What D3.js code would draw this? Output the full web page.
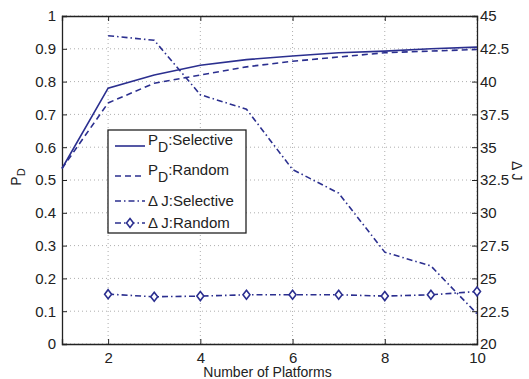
<!DOCTYPE html>
<html>
<head>
<meta charset="utf-8">
<script src="https://cdn.jsdelivr.net/npm/d3@7"></script>
<style>
body { margin: 0; background: #fff; }
text { font-family: "Liberation Sans", Arial, sans-serif; fill: #222; }
</style>
</head>
<body>
<svg id="chart"></svg>
<script>
var width = 529, height = 379;
var margin = {left: 62, right: 52, top: 16, bottom: 35};

// data
var platforms = [1, 2, 3, 4, 5, 6, 7, 8, 9, 10];
var pdSelective = [0.535, 0.78, 0.82, 0.85, 0.867, 0.878, 0.888, 0.893, 0.9, 0.905];
var pdRandom = [0.535, 0.735, 0.795, 0.82, 0.845, 0.862, 0.875, 0.888, 0.893, 0.898];
var djPlatforms = [2, 3, 4, 5, 6, 7, 8, 9, 10];
var djSelective = [43.5, 43.15, 39.0, 37.9, 33.3, 31.5, 27.0, 25.95, 22.3];
var djRandom = [23.8, 23.6, 23.65, 23.75, 23.75, 23.75, 23.65, 23.75, 24.0];

var xTicks = [2, 4, 6, 8, 10];
var leftTicks = [0, 0.1, 0.2, 0.3, 0.4, 0.5, 0.6, 0.7, 0.8, 0.9, 1];
var rightTicks = [20, 22.5, 25, 27.5, 30, 32.5, 35, 37.5, 40, 42.5, 45];

var color = "#2b2f8f";

var svg = d3.select("#chart").attr("width", width).attr("height", height);

var x = d3.scaleLinear().domain([1, 10]).range([margin.left, width - margin.right]);
var yL = d3.scaleLinear().domain([0, 1]).range([height - margin.bottom, margin.top]);
var yR = d3.scaleLinear().domain([20, 45]).range([height - margin.bottom, margin.top]);

var x0 = margin.left, x1 = width - margin.right;
var y0 = height - margin.bottom, y1 = margin.top;

// grid
var grid = svg.append("g")
  .attr("stroke", "#999")
  .attr("stroke-width", 0.8)
  .attr("stroke-dasharray", "1,3");

xTicks.forEach(function (t) {
  grid.append("line")
    .attr("x1", x(t)).attr("x2", x(t))
    .attr("y1", y0).attr("y2", y1);
});
leftTicks.forEach(function (t) {
  grid.append("line")
    .attr("x1", x0).attr("x2", x1)
    .attr("y1", yL(t)).attr("y2", yL(t));
});

// axes, ticks pointing inward
var axB = svg.append("g").attr("transform", "translate(0," + y0 + ")")
  .call(d3.axisBottom(x).tickValues(xTicks).tickSize(-5).tickPadding(8).tickFormat(d3.format("d")));
var axT = svg.append("g").attr("transform", "translate(0," + y1 + ")")
  .call(d3.axisTop(x).tickValues(xTicks).tickSize(-5).tickFormat(""));
var axL = svg.append("g").attr("transform", "translate(" + x0 + ",0)")
  .call(d3.axisLeft(yL).tickValues(leftTicks).tickSize(-5).tickPadding(6).tickFormat(d3.format("~g")));
var axR = svg.append("g").attr("transform", "translate(" + x1 + ",0)")
  .call(d3.axisRight(yR).tickValues(rightTicks).tickSize(-5).tickPadding(3).tickFormat(d3.format("~g")));

[axB, axT, axL, axR].forEach(function (a) {
  a.select(".domain").attr("stroke", "#222").attr("stroke-width", 1.3);
  a.selectAll(".tick line").attr("stroke", "#222");
  a.selectAll("text").attr("font-size", "15px").attr("fill", "#222")
    .style("font-family", "Liberation Sans, Arial, sans-serif");
});

// axis labels
svg.append("text")
  .attr("x", (x0 + x1) / 2 - 2).attr("y", 377)
  .attr("text-anchor", "middle")
  .attr("font-size", "14px")
  .text("Number of Platforms");

var pdLabel = svg.append("text")
  .attr("transform", "translate(21," + (yL(0.5) - 3) + ") rotate(-90)")
  .attr("text-anchor", "middle")
  .attr("font-size", "14px");
pdLabel.append("tspan").text("P");
pdLabel.append("tspan").attr("dy", 4).attr("font-size", "11px").text("D");

svg.append("text")
  .attr("transform", "translate(512," + yR(33.2) + ") rotate(90)")
  .attr("text-anchor", "middle")
  .attr("font-size", "14px")
  .text("\u0394 J");

// lines
var lineL = d3.line().x(function (d) { return x(d[0]); }).y(function (d) { return yL(d[1]); });
var lineR = d3.line().x(function (d) { return x(d[0]); }).y(function (d) { return yR(d[1]); });

var plot = svg.append("g").attr("fill", "none").attr("stroke", color).attr("stroke-width", 1.6);

plot.append("path").attr("d", lineL(d3.zip(platforms, pdSelective)));
plot.append("path").attr("d", lineL(d3.zip(platforms, pdRandom)))
  .attr("stroke-dasharray", "6,4");
plot.append("path").attr("d", lineR(d3.zip(djPlatforms, djSelective)))
  .attr("stroke-dasharray", "6,3,1.5,3");
plot.append("path").attr("d", lineR(d3.zip(djPlatforms, djRandom)))
  .attr("stroke-dasharray", "6,3,1.5,3");

var diamond = function (cx, cy) {
  return "M" + cx + "," + (cy - 4.5) + "L" + (cx + 3.5) + "," + cy +
    "L" + cx + "," + (cy + 4.5) + "L" + (cx - 3.5) + "," + cy + "Z";
};

plot.selectAll(".mk").data(d3.zip(djPlatforms, djRandom)).enter()
  .append("path")
  .attr("fill", "#fff")
  .attr("stroke-width", 1.6)
  .attr("d", function (d) { return diamond(x(d[0]), yR(d[1])); });

// legend
var lg = svg.append("g").attr("transform", "translate(108,130)");
lg.append("rect")
  .attr("width", 138).attr("height", 103)
  .attr("fill", "#fff").attr("stroke", "#222").attr("stroke-width", 1.3);

var entries = [
  {main: "P", sub: "D", rest: ":Selective", dash: null, marker: false},
  {main: "P", sub: "D", rest: ":Random", dash: "6,4", marker: false},
  {main: "\u0394 J", sub: null, rest: ":Selective", dash: "6,3,1.5,3", marker: false},
  {main: "\u0394 J", sub: null, rest: ":Random", dash: "6,3,1.5,3", marker: true}
];
var rowY = [16, 46, 71, 93];

entries.forEach(function (e, i) {
  var ly = rowY[i];
  lg.append("line")
    .attr("x1", 7).attr("x2", 37)
    .attr("y1", ly).attr("y2", ly)
    .attr("stroke", color).attr("stroke-width", 1.6)
    .attr("stroke-dasharray", e.dash);
  if (e.marker) {
    lg.append("path").attr("d", diamond(22, ly))
      .attr("fill", "#fff").attr("stroke", color).attr("stroke-width", 1.6);
  }
  var t = lg.append("text")
    .attr("x", 40).attr("y", e.sub ? ly - 1 : ly + 5)
    .attr("font-size", "15px");
  t.append("tspan").text(e.main);
  if (e.sub) {
    t.append("tspan").attr("dy", 7).attr("font-size", "14px").text(e.sub);
    t.append("tspan").attr("dy", -7).text(e.rest);
  } else {
    t.append("tspan").text(e.rest);
  }
});
</script>
</body>
</html>
